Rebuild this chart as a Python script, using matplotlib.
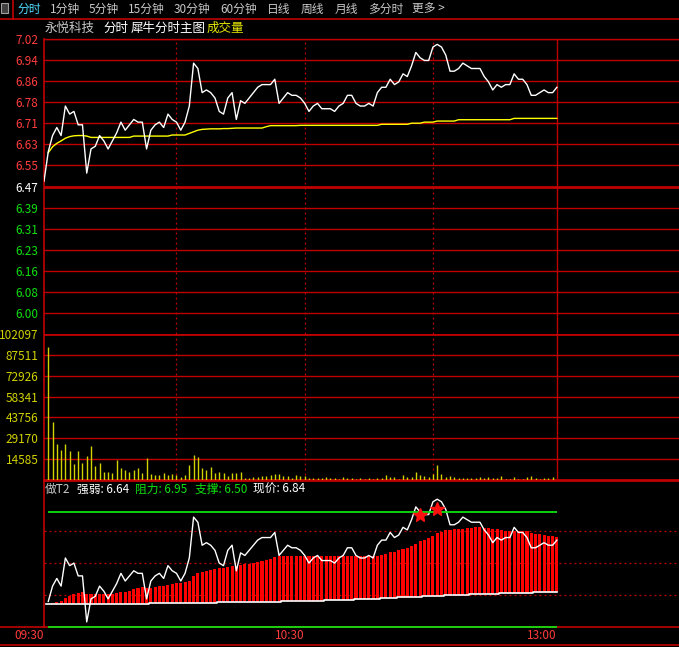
import numpy as np
import matplotlib
matplotlib.use('Agg')
import matplotlib.pyplot as plt
from matplotlib.lines import Line2D
from matplotlib.patches import Rectangle

plt.rcParams['font.family'] = ['Noto Sans CJK SC', 'DejaVu Sans']

# ---- data (minute index 0 = 09:30, 120 = 11:30/13:00) ----
price = [6.49, 6.60, 6.66, 6.69, 6.66, 6.77, 6.74, 6.75, 6.70, 6.70,
         6.52, 6.61, 6.62, 6.66, 6.64, 6.61, 6.64, 6.67, 6.71, 6.68,
         6.70, 6.72, 6.71, 6.71, 6.61, 6.68, 6.70, 6.71, 6.69, 6.74,
         6.72, 6.71, 6.68, 6.71, 6.77, 6.93, 6.91, 6.82, 6.83, 6.82,
         6.80, 6.75, 6.74, 6.80, 6.82, 6.72, 6.79, 6.78, 6.80, 6.82,
         6.84, 6.85, 6.85, 6.85, 6.87, 6.78, 6.80, 6.82, 6.81, 6.81,
         6.80, 6.78, 6.75, 6.77, 6.78, 6.76, 6.76, 6.76, 6.75, 6.77,
         6.78, 6.81, 6.81, 6.78, 6.77, 6.77, 6.78, 6.77, 6.82, 6.84,
         6.84, 6.87, 6.85, 6.86, 6.89, 6.88, 6.92, 6.97, 6.95, 6.94,
         6.94, 6.99, 7.00, 6.99, 6.96, 6.90, 6.90, 6.91, 6.93, 6.92,
         6.91, 6.91, 6.91, 6.88, 6.86, 6.83, 6.85, 6.84, 6.85, 6.85,
         6.89, 6.87, 6.87, 6.85, 6.81, 6.81, 6.82, 6.83, 6.82, 6.82,
         6.84]

avg_price = [np.nan, 6.596, 6.618, 6.631, 6.640, 6.650, 6.656, 6.659, 6.660, 6.660,
             6.658, 6.653, 6.653, 6.653, 6.653, 6.653, 6.653, 6.653, 6.653, 6.653,
             6.653, 6.658, 6.658, 6.658, 6.658, 6.658, 6.658, 6.658, 6.658, 6.658,
             6.662, 6.662, 6.662, 6.662, 6.668, 6.674, 6.680, 6.683, 6.684, 6.685,
             6.685, 6.685, 6.686, 6.686, 6.687, 6.688, 6.688, 6.688, 6.688, 6.688,
             6.688, 6.688, 6.693, 6.697, 6.697, 6.697, 6.697, 6.697, 6.697, 6.697,
             6.698, 6.698, 6.698, 6.698, 6.698, 6.698, 6.698, 6.698, 6.698, 6.698,
             6.698, 6.698, 6.698, 6.698, 6.698, 6.698, 6.698, 6.698, 6.698, 6.702,
             6.702, 6.702, 6.702, 6.702, 6.702, 6.702, 6.706, 6.706, 6.706, 6.710,
             6.710, 6.710, 6.714, 6.714, 6.714, 6.714, 6.714, 6.719, 6.719, 6.719,
             6.719, 6.719, 6.719, 6.719, 6.719, 6.719, 6.719, 6.719, 6.719, 6.719,
             6.724, 6.724, 6.724, 6.724, 6.724, 6.724, 6.724, 6.724, 6.724, 6.724,
             6.724]

volume = [0, 93270, 40490, 25000, 20800, 25000, 20140, 11320, 20140, 12000,
          16670, 23600, 9720, 11800, 5560, 5560, 4860, 13900, 8330, 6950,
          5560, 6950, 8330, 4860, 15280, 4170, 3470, 3470, 4860, 3470,
          4170, 3470, 2080, 3470, 10400, 17360, 15970, 8330, 6950, 9030,
          4860, 5560, 4860, 2780, 4860, 4860, 5560, 1390, 1390, 2080,
          2080, 2780, 2780, 3470, 4170, 4170, 2780, 2780, 1390, 3470,
          2780, 2780, 1390, 1390, 1390, 1390, 2080, 1390, 1390, 700,
          2080, 1390, 1390, 700, 1390, 700, 1390, 700, 1390, 1390,
          3470, 2080, 2080, 700, 3470, 2080, 2080, 5560, 3470, 2780,
          2080, 4170, 10420, 4170, 2080, 2780, 2080, 1390, 1390, 1390,
          1390, 1390, 2080, 1390, 2080, 1390, 1390, 2780, 700, 700,
          2080, 700, 700, 2080, 2780, 1390, 700, 1390, 1390, 2080,
          0]

# 做T2 indicator: bar tops and the white base line under the bars
t2_top = [np.nan, np.nan, 6.594, 6.599, 6.603, 6.615, 6.623, 6.629, 6.633, 6.637,
          6.629, 6.629, 6.629, 6.629, 6.629, 6.629, 6.629, 6.633, 6.637, 6.637,
          6.641, 6.649, 6.653, 6.657, 6.653, 6.653, 6.657, 6.660, 6.662, 6.664,
          6.668, 6.672, 6.672, 6.676, 6.680, 6.700, 6.711, 6.716, 6.720, 6.724,
          6.728, 6.730, 6.732, 6.735, 6.738, 6.740, 6.742, 6.745, 6.748, 6.752,
          6.756, 6.760, 6.764, 6.768, 6.772, 6.776, 6.776, 6.776, 6.776, 6.776,
          6.776, 6.776, 6.776, 6.776, 6.776, 6.776, 6.776, 6.776, 6.776, 6.776,
          6.778, 6.778, 6.778, 6.778, 6.778, 6.778, 6.778, 6.778, 6.778, 6.782,
          6.786, 6.793, 6.793, 6.801, 6.805, 6.809, 6.817, 6.825, 6.837, 6.840,
          6.848, 6.856, 6.868, 6.872, 6.880, 6.880, 6.883, 6.883, 6.883, 6.887,
          6.887, 6.891, 6.891, 6.887, 6.887, 6.883, 6.883, 6.880, 6.876, 6.876,
          6.876, 6.876, 6.876, 6.876, 6.868, 6.864, 6.864, 6.860, 6.856, 6.856,
          6.852]

t2_base = [np.nan, 6.590, 6.590, 6.590, 6.590, 6.590, 6.590, 6.590, 6.590, 6.590,
           6.590, 6.590, 6.590, 6.590, 6.590, 6.590, 6.590, 6.590, 6.590, 6.590,
           6.590, 6.590, 6.590, 6.590, 6.590, 6.594, 6.594, 6.594, 6.594, 6.594,
           6.594, 6.594, 6.594, 6.594, 6.594, 6.594, 6.594, 6.594, 6.594, 6.594,
           6.594, 6.598, 6.598, 6.598, 6.598, 6.598, 6.598, 6.598, 6.598, 6.598,
           6.598, 6.598, 6.598, 6.598, 6.598, 6.598, 6.602, 6.602, 6.602, 6.602,
           6.602, 6.602, 6.602, 6.602, 6.602, 6.602, 6.606, 6.606, 6.606, 6.606,
           6.606, 6.606, 6.606, 6.610, 6.610, 6.610, 6.610, 6.610, 6.610, 6.614,
           6.614, 6.614, 6.614, 6.616, 6.616, 6.616, 6.616, 6.616, 6.616, 6.620,
           6.620, 6.620, 6.620, 6.620, 6.624, 6.624, 6.624, 6.624, 6.624, 6.624,
           6.628, 6.628, 6.628, 6.628, 6.628, 6.628, 6.628, 6.632, 6.632, 6.632,
           6.632, 6.632, 6.632, 6.632, 6.632, 6.637, 6.637, 6.637, 6.637, 6.637,
           6.637]

star_idx = [88, 92]
star_val = [6.938, 6.961]

prev_close = 6.47
price_labels = ['6.00', '6.08', '6.16', '6.23', '6.31', '6.39', '6.47',
                '6.55', '6.63', '6.71', '6.78', '6.86', '6.94', '7.02']
vol_labels = ['14585', '29170', '43756', '58341', '72926', '87511', '102097']
vol_step = 14585.3
resist, support = 6.95, 6.50
strength, last = 6.64, 6.84
time_idx = [0, 61, 120]
time_labels = ['09:30', '10:30', '13:00']
half_hours = [31, 61, 91]

menu = ['1分钟', '5分钟', '15分钟', '30分钟', '60分钟', '日线', '周线', '月线', '多分时', '更多 >']
menu_x = [50, 89, 128, 174, 220, 267, 301, 335, 368, 412]

# ---- styling ----
W, H = 679, 647
RED = '#c00000'
TXT_RED = '#ff3c3c'
GREEN = '#10e010'
YEL = '#d2d200'
GRAY = '#c8c8c8'
px_per_min = 4.274
x_max = (W - 44) / px_per_min
step = 0.55 / 7

fig = plt.figure(figsize=(W / 100, H / 100), dpi=100, facecolor='black')


def box(x0, y0, x1, y1):
    return [x0 / W, 1 - y1 / H, (x1 - x0) / W, (y1 - y0) / H]


def fline(xs, ys, color=RED, lw=1.0, z=-1):
    fig.add_artist(Line2D([x / W for x in xs], [1 - y / H for y in ys], color=color,
                          lw=lw, zorder=z, transform=fig.transFigure))


def ftext(x, y, s, color=GRAY, size=8.5, ha='left'):
    fig.text(x / W, 1 - y / H, s, color=color, fontsize=size, ha=ha, va='center')


ax_p = fig.add_axes(box(44, 39, W, 334))
ax_v = fig.add_axes(box(44, 334, W, 480))
ax_t = fig.add_axes(box(44, 480, W, 627))
for ax in (ax_p, ax_v, ax_t):
    ax.set_facecolor('none')
    for s in ax.spines.values():
        s.set_visible(False)
    ax.set_xlim(0, x_max)
    ax.tick_params(length=0, colors=GRAY)
    ax.set_xticks([])

x = np.arange(len(price))
dots = (0, (1.5, 2.5))

# price panel
ax_p.set_ylim(prev_close - 7 * step, prev_close + 7 * step)
levels = [prev_close + k * step for k in range(-6, 8)]
for k, lv in zip(range(-6, 8), levels):
    ax_p.axhline(lv, color=RED, lw=2 if k == 0 else 1, zorder=1)
ax_p.set_yticks(levels)
ax_p.set_yticklabels(price_labels, fontsize=8.5)
ax_p.tick_params(axis='y', pad=4)
for lab, k in zip(ax_p.get_yticklabels(), range(-6, 8)):
    lab.set_color(TXT_RED if k > 0 else ('white' if k == 0 else GREEN))
for h in half_hours:
    ax_p.axvline(h, color=RED, lw=0.9, ls=dots, zorder=1)
ax_p.axvline(120, color=RED, lw=1, zorder=1)
ax_p.plot(x, avg_price, color='#ffff00', lw=1, zorder=3)
ax_p.plot(x, price, color='white', lw=1, zorder=4)

# volume panel
ax_v.set_ylim(0, 7 * vol_step)
vticks = [vol_step * k for k in range(1, 8)]
for k, v in enumerate(vticks, 1):
    ax_v.axhline(v, color=RED, lw=2 if k == 7 else 1, zorder=1)
ax_v.set_yticks(vticks)
ax_v.set_yticklabels(vol_labels, fontsize=8.5, color=YEL)
ax_v.tick_params(axis='y', pad=4, colors=YEL)
for h in half_hours:
    ax_v.axvline(h, color=RED, lw=0.9, ls=dots, zorder=1)
ax_v.axvline(120, color=RED, lw=1, zorder=1)
ax_v.vlines(x, 0, volume, color=YEL, lw=1, zorder=3)

# 做T2 panel
ax_t.set_ylim(support, resist + 32 / 255.6)
ax_t.set_yticks([])
for lv in (6.625, 6.75, 6.875):
    ax_t.axhline(lv, color=RED, lw=0.9, ls=dots, zorder=1)
top = np.array(t2_top)
base = np.array(t2_base)
ax_t.bar(x, top - base, bottom=base, width=0.72, color='#ff0000', zorder=2)
ax_t.plot(x, base, color='white', lw=1.2, drawstyle='steps-mid', zorder=3)
ax_t.plot(x[1:], price[1:], color='white', lw=1, zorder=4)
ax_t.hlines([resist, support], 1, 120, color=GREEN, lw=1.3, zorder=5, clip_on=False)
ax_t.plot(star_idx, star_val, ls='none', marker='*', ms=10, color='#ff1010', zorder=6)
ax_t.set_xticks(time_idx)
ax_t.set_xticklabels(time_labels, fontsize=8.5, color=TXT_RED, ha='right')
ax_t.tick_params(axis='x', pad=1.5)

# frame lines
fline([0, W], [19, 19], lw=1.2)
fline([12.5, 12.5], [0, 19], lw=1.2)
fline([44, 44], [39, 627], lw=1.2)
fline([44, W], [39, 39], lw=1)
fline([44, W], [480, 480], lw=2)
fline([0, W], [627, 627], lw=1.2)
fline([0, W], [645, 645], lw=1.2)

# toolbar
fig.add_artist(Rectangle((1 / W, 1 - 13 / H), 7 / W, 10 / H, transform=fig.transFigure,
                         facecolor='#404040', edgecolor='#a0a0a0', lw=0.8))
ftext(17, 9, '分时', color='#50dcff')
for s, xx in zip(menu, menu_x):
    ftext(xx, 9, s)

# header
ftext(45, 28.5, '永悦科技', size=9)
ftext(103, 28.5, '分时', color='white', size=9)
ftext(131, 28.5, '犀牛分时主图', color='white', size=9)
ftext(207, 28.5, '成交量', color='#e6e600', size=9)

ftext(45, 489.5, '做T2', color=GRAY)
ftext(77, 489.5, f'强弱: {strength:.2f}', color='white')
ftext(135, 489.5, f'阻力: {resist:.2f}', color=GREEN)
ftext(195, 489.5, f'支撑: {support:.2f}', color=GREEN)
ftext(253, 489.5, f'现价: {last:.2f}', color='white')

fig.savefig('out.png', dpi=100, facecolor='black')
